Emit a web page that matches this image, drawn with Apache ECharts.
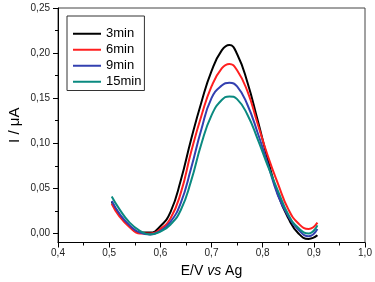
<!DOCTYPE html>
<html>
<head>
<meta charset="utf-8">
<title>I vs E</title>
<script src="https://cdn.jsdelivr.net/npm/echarts@6/dist/echarts.min.js"></script>
<style>
  html, body { margin: 0; padding: 0; background: #fff; }
  #chart { width: 375px; height: 282px; }
</style>
</head>
<body>
<div id="chart"></div>
<script>
// potential (V vs Ag)
var potential = [0.505, 0.52, 0.54, 0.56, 0.58, 0.60, 0.62, 0.64, 0.66, 0.68, 0.70, 0.72,
                 0.735, 0.75, 0.77, 0.79, 0.81, 0.83, 0.85, 0.87, 0.89, 0.907];
// current (uA)
var i3min  = [0.035, 0.021, 0.008, 0.001, 0.001, 0.008, 0.024, 0.059, 0.104, 0.145, 0.180, 0.203,
              0.209, 0.199, 0.168, 0.126, 0.082, 0.043, 0.017, 0.000, -0.006, -0.002];
var i6min  = [0.033, 0.019, 0.007, 0.000, 0.000, 0.005, 0.017, 0.045, 0.090, 0.130, 0.163, 0.183,
              0.188, 0.181, 0.158, 0.122, 0.086, 0.055, 0.027, 0.011, 0.005, 0.012];
var i9min  = [0.036, 0.022, 0.009, 0.001, -0.001, 0.003, 0.013, 0.034, 0.072, 0.115, 0.150, 0.164,
              0.167, 0.163, 0.143, 0.112, 0.077, 0.042, 0.019, 0.004, -0.003, 0.005];
var i15min = [0.041, 0.027, 0.012, 0.003, -0.001, 0.002, 0.010, 0.026, 0.058, 0.099, 0.131, 0.148,
              0.152, 0.149, 0.132, 0.105, 0.075, 0.047, 0.021, 0.006, 0.000, 0.009];

var names = ['3min', '6min', '9min', '15min'];
var colors = ['#000000', '#ff1f1f', '#3340b0', '#0a8a80'];
var yMajor = [0, 0.05, 0.10, 0.15, 0.20, 0.25];
var yMinor = [0.025, 0.075, 0.125, 0.175, 0.225];

function pairs(arr) {
    return potential.map(function (e, k) { return [e, arr[k]]; });
}
function comma(v, d) {
    return v.toFixed(d).replace('.', ',');
}

var chart = echarts.init(document.getElementById('chart'));
var font = 'Liberation Sans, Arial, sans-serif';

chart.setOption({
    animation: false,
    textStyle: { fontFamily: font },
    grid: {
        left: 58, right: 10, top: 8, bottom: 39.5,
        outerBoundsMode: 'none',
        containLabel: false,
        show: true, borderColor: '#444', borderWidth: 1
    },
    legend: {
        orient: 'vertical',
        left: 67, top: 16,
        padding: [10, 3, 1, 6],
        icon: 'rect',
        itemWidth: 28, itemHeight: 2, itemGap: 0.5,
        borderColor: '#333', borderWidth: 1,
        textStyle: { fontSize: 13, lineHeight: 15.5, color: '#000' },
        data: names
    },
    xAxis: {
        type: 'value',
        min: 0.4, max: 1.0, interval: 0.1,
        name: 'E/V {i|vs} Ag',
        nameLocation: 'middle',
        nameGap: 22,
        nameMoveOverlap: false,
        nameTextStyle: {
            fontSize: 14, color: '#000',
            rich: { i: { fontSize: 14, fontStyle: 'italic', color: '#000' } }
        },
        axisLine: { onZero: false, lineStyle: { color: '#000', width: 1 } },
        axisTick: { inside: false, length: 5, lineStyle: { color: '#000' } },
        minorTick: { show: true, splitNumber: 2, length: 3, lineStyle: { color: '#000' } },
        axisLabel: { fontSize: 10, color: '#222', margin: 6, formatter: function (v) { return comma(v, 1); } },
        splitLine: { show: false }
    },
    yAxis: [{
        type: 'value',
        min: -0.01, max: 0.25,
        name: 'I / μA',
        nameLocation: 'middle',
        nameGap: 36,
        nameMoveOverlap: false,
        nameRotate: 90,
        nameTextStyle: { fontSize: 15, color: '#000' },
        axisLine: { show: true, onZero: false, lineStyle: { color: '#000', width: 1 } },
        axisTick: { show: true, length: 5, customValues: yMajor, lineStyle: { color: '#000' } },
        axisLabel: { fontSize: 10, color: '#222', margin: 8, customValues: yMajor,
                     formatter: function (v) { return comma(v, 2); } },
        splitLine: { show: false }
    }, {
        type: 'value',
        position: 'left',
        min: -0.01, max: 0.25,
        axisLine: { show: false, onZero: false },
        axisTick: { show: true, length: 3, customValues: yMinor, lineStyle: { color: '#000' } },
        axisLabel: { show: false, customValues: yMinor },
        splitLine: { show: false }
    }],
    series: [i3min, i6min, i9min, i15min].map(function (arr, k) {
        return {
            name: names[k],
            type: 'line',
            smooth: true,
            showSymbol: false,
            symbol: 'none',
            color: colors[k],
            lineStyle: { width: 2, color: colors[k] },
            data: pairs(arr)
        };
    })
});
</script>
</body>
</html>
